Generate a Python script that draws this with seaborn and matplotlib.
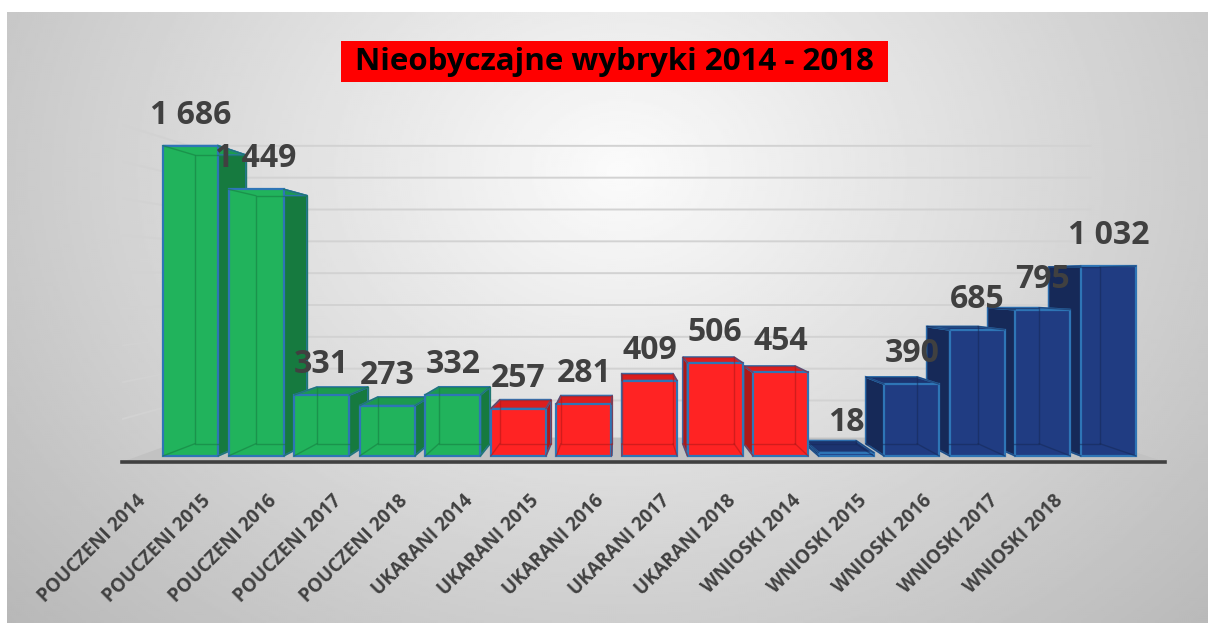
import numpy as np
import pandas as pd
import matplotlib
matplotlib.use("Agg")
import matplotlib.pyplot as plt
import matplotlib.colors as mcolors
from matplotlib.patches import Polygon, Rectangle
from matplotlib.transforms import ScaledTranslation
import seaborn as sns

# ---------------- data ----------------
categories = ["POUCZENI 2014", "POUCZENI 2015", "POUCZENI 2016", "POUCZENI 2017", "POUCZENI 2018",
              "UKARANI 2014", "UKARANI 2015", "UKARANI 2016", "UKARANI 2017", "UKARANI 2018",
              "WNIOSKI 2014", "WNIOSKI 2015", "WNIOSKI 2016", "WNIOSKI 2017", "WNIOSKI 2018"]
groups = ["POUCZENI"] * 5 + ["UKARANI"] * 5 + ["WNIOSKI"] * 5
values = [1686, 1449, 331, 273, 332, 257, 281, 409, 506, 454, 18, 390, 685, 795, 1032]
group_colors = {"POUCZENI": "#21B35C", "UKARANI": "#FF2323", "WNIOSKI": "#203C82"}
title = "Nieobyczajne wybryki 2014 - 2018"
gridline_values = [200, 400, 600, 800, 1000, 1200, 1400, 1600, 1800]

# ---------------- style ----------------
W, H = 1208, 628
sns.set_theme(style="white")
plt.rcParams["font.family"] = ["Open Sans", "DejaVu Sans"]
TXT = "#404040"
EDGE = "#2E75B6"

fig = plt.figure(figsize=(W / 100, H / 100), dpi=100)
fig.patch.set_facecolor("white")


def fx(px):
    return px / W


def fy(py):
    return 1 - py / H


# background gradient panel
bg = fig.add_axes([fx(7), fy(623), (W - 7) / W, (623 - 12) / H], zorder=-10)
yy, xx = np.mgrid[12:623:2, 7:1208:2]
r = np.sqrt(((xx - 620) / 600.0) ** 2 + ((yy - 170) / 480.0) ** 2)
shade = np.clip(0.985 - 0.19 * r, 0, 1)
bg.imshow(shade, cmap="gray", vmin=0, vmax=1, aspect="auto", extent=(0, 1, 0, 1),
          origin="upper", interpolation="bilinear")
bg.axis("off")

# main axes
AX_L, AX_R, AX_T, AX_B = 122, 1165, 92, 462
ax = fig.add_axes([fx(AX_L), fy(AX_B), (AX_R - AX_L) / W, (AX_B - AX_T) / H])
ax.patch.set_alpha(0)

df = pd.DataFrame({"kategoria": categories, "grupa": groups, "liczba": values})
sns.barplot(data=df, x="kategoria", y="liczba", hue="grupa", palette=group_colors,
            saturation=1, width=0.84, edgecolor=EDGE, linewidth=1.6, legend=False, ax=ax)

ax.set_xlim(-1.045, 14.862)
ax.set_ylim(-33, 1978)
ax.set_xlabel("")
ax.set_ylabel("")
ax.set_yticks([])
ax.set_xticks([])
for s in ["top", "right", "left"]:
    ax.spines[s].set_visible(False)
ax.spines["bottom"].set_color(TXT)
ax.spines["bottom"].set_linewidth(2.6)

# ---------------- pseudo-3D perspective ----------------
VP = np.array([620.0, H - 281.0])   # vanishing point (display px)
K_BAR = 0.07
K_WALL = 0.135
to_disp = ax.transData.transform
to_data = ax.transData.inverted().transform


def back(pts, k):
    pts = np.asarray(pts, dtype=float)
    return pts + (VP - pts) * k


x0l, x1l = ax.get_xlim()
y0l = ax.get_ylim()[0]

# floor
fl_f = to_disp([(x0l, y0l), (x1l, y0l)])
fl_b = back(fl_f, K_WALL)
floor = np.vstack([fl_f[0], fl_f[1], fl_b[1], fl_b[0]])
ax.add_patch(Polygon(to_data(floor), closed=True, fc="#c2c2c2", ec="none", zorder=0.5))

# wall gridlines (back wall + left wall)
for v in gridline_values:
    front_left = to_disp([(x0l, v)])[0]
    front_right = to_disp([(x1l, v)])[0]
    wl, wr = back([front_left, front_right], K_WALL)
    pts = to_data([front_left, wl, wr])
    ax.plot(pts[:, 0], pts[:, 1], color="#d2d2d2", lw=1.4, zorder=0.8, solid_capstyle="butt")

# bars with side/top faces
bars = [p for p in ax.patches if isinstance(p, matplotlib.patches.Rectangle) and p.get_height() > 0]


def center_px(p):
    return to_disp([(p.get_x() + p.get_width() / 2, 0)])[0][0]


order = sorted(bars, key=lambda p: -abs(center_px(p) - VP[0]))
for rank, p in enumerate(order):
    x0, w, h = p.get_x(), p.get_width(), p.get_height()
    fl, fr, tr, tl = to_disp([(x0, 0), (x0 + w, 0), (x0 + w, h), (x0, h)])
    bl, br, btr, btl = back([fl, fr, tr, tl], K_BAR)
    face = np.array(mcolors.to_rgb(p.get_facecolor()))
    side_c = face * 0.68
    top_c = face * 0.86
    z = 2 + rank * 3
    if center_px(p) < VP[0]:
        side = [fr, br, btr, tr]
    else:
        side = [fl, bl, btl, tl]
    ax.add_patch(Polygon(to_data(side), closed=True, fc=side_c, ec=EDGE, lw=1.3, zorder=z))
    ax.add_patch(Polygon(to_data([tl, tr, btr, btl]), closed=True, fc=top_c, ec=EDGE, lw=1.3, zorder=z + 1))
    p.set_zorder(z + 2)
    inner = to_data([bl, br, btr, btl, bl])
    ax.plot(inner[:, 0], inner[:, 1], color=side_c, lw=1.0, alpha=0.55, zorder=z + 2.5)
    for a, b in [(fl, bl), (fr, br), (tl, btl), (tr, btr)]:
        seg = to_data([a, b])
        ax.plot(seg[:, 0], seg[:, 1], color=side_c, lw=1.0, alpha=0.55, zorder=z + 2.5)

# value labels
for p in bars:
    cx = p.get_x() + p.get_width() / 2
    h = p.get_height()
    lab = f"{int(round(h)):,}".replace(",", " ")
    ax.annotate(lab, (cx, h), xytext=(0, 22), textcoords="offset points", ha="center", va="center",
                fontsize=23, fontweight="bold", color=TXT, zorder=200)

# category labels (rotated)
lab_off = ScaledTranslation(-0.48, -0.36, fig.dpi_scale_trans)
bars_sorted = sorted(bars, key=lambda p: p.get_x())
for p, cat in zip(bars_sorted, categories):
    cx = p.get_x() + p.get_width() / 2
    ax.text(cx, 0, cat, transform=ax.get_xaxis_transform() + lab_off, rotation=45,
            rotation_mode="anchor", ha="right", va="center", fontsize=13.5, fontweight="bold",
            color=TXT, clip_on=False)

# title box
fig.add_artist(Rectangle((fx(341), fy(82)), (888 - 341) / W, 41 / H, transform=fig.transFigure,
                         fc="#FF0000", ec="none", zorder=5))
fig.text(fx(614), fy(62), title, ha="center", va="center", fontsize=22.5, fontweight="bold",
         color="black", zorder=6)

fig.savefig("out.png", dpi=100)
